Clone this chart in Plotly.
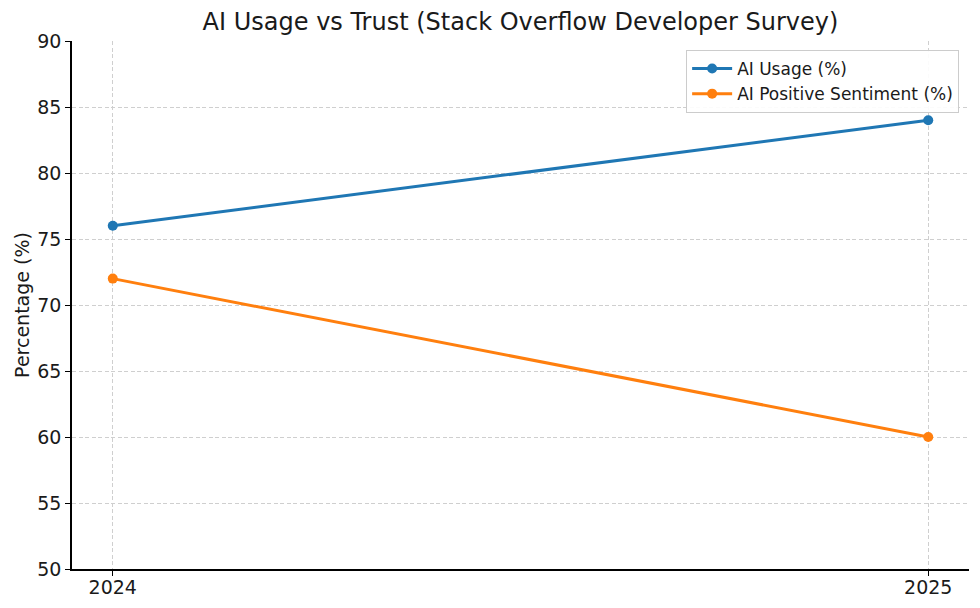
import plotly.graph_objects as go

years = [2024, 2025]
ai_usage = [76, 84]
ai_positive = [72, 60]
series_names = ["AI Usage (%)", "AI Positive Sentiment (%)"]
colors = ["#1f77b4", "#ff7f0e"]
y_ticks = [50, 55, 60, 65, 70, 75, 80, 85, 90]

fig = go.Figure()
for name, vals, c in zip(series_names, [ai_usage, ai_positive], colors):
    fig.add_trace(go.Scatter(
        x=years, y=vals, mode="lines+markers", name=name,
        line=dict(color=c, width=3), marker=dict(color=c, size=10),
    ))

font = "DejaVu Sans, sans-serif"
txt = "#1a1a1a"
# page body has an 8px margin, so the figure is 8px smaller and offsets shift by 8
fig.update_layout(
    width=972, height=600,
    margin=dict(l=64, r=11, t=33, b=39, autoexpand=False),
    paper_bgcolor="white", plot_bgcolor="white",
    font=dict(family=font, color=txt),
    title=dict(text="AI Usage vs Trust (Stack Overflow Developer Survey)",
               x=0.5, xref="paper", xanchor="center", y=1 - 14 / 600, yref="container",
               yanchor="middle", automargin=False,
               font=dict(size=24, family=font, color=txt)),
    legend=dict(x=0.989, y=0.983, xanchor="right", yanchor="top",
                bgcolor="rgba(255,255,255,0.9)", bordercolor="#cccccc", borderwidth=1,
                font=dict(size=17, family=font, color=txt),
                itemwidth=40),
    showlegend=True,
)
fig.update_xaxes(
    range=[2023.95, 2025.05], tickvals=years, ticktext=[str(y) for y in years],
    showgrid=True, gridcolor="#cfcfcf", griddash="4px,2.5px", gridwidth=1,
    showline=True, linecolor="black", linewidth=1.5,
    ticks="outside", ticklen=5, tickcolor="black", automargin=False,
    ticklabelstandoff=-5,
    tickfont=dict(size=19, family=font, color=txt), zeroline=False,
)
fig.update_yaxes(
    range=[50, 90], tickvals=y_ticks,
    showgrid=True, gridcolor="#cfcfcf", griddash="4px,2.5px", gridwidth=1,
    showline=True, linecolor="black", linewidth=1.5,
    ticks="outside", ticklen=5, tickcolor="black", automargin=False,
    tickfont=dict(size=19, family=font, color=txt), zeroline=False,
    title=dict(text="Percentage (%)", font=dict(size=19, family=font, color=txt), standoff=3),
)
fig.write_html("out.html")
